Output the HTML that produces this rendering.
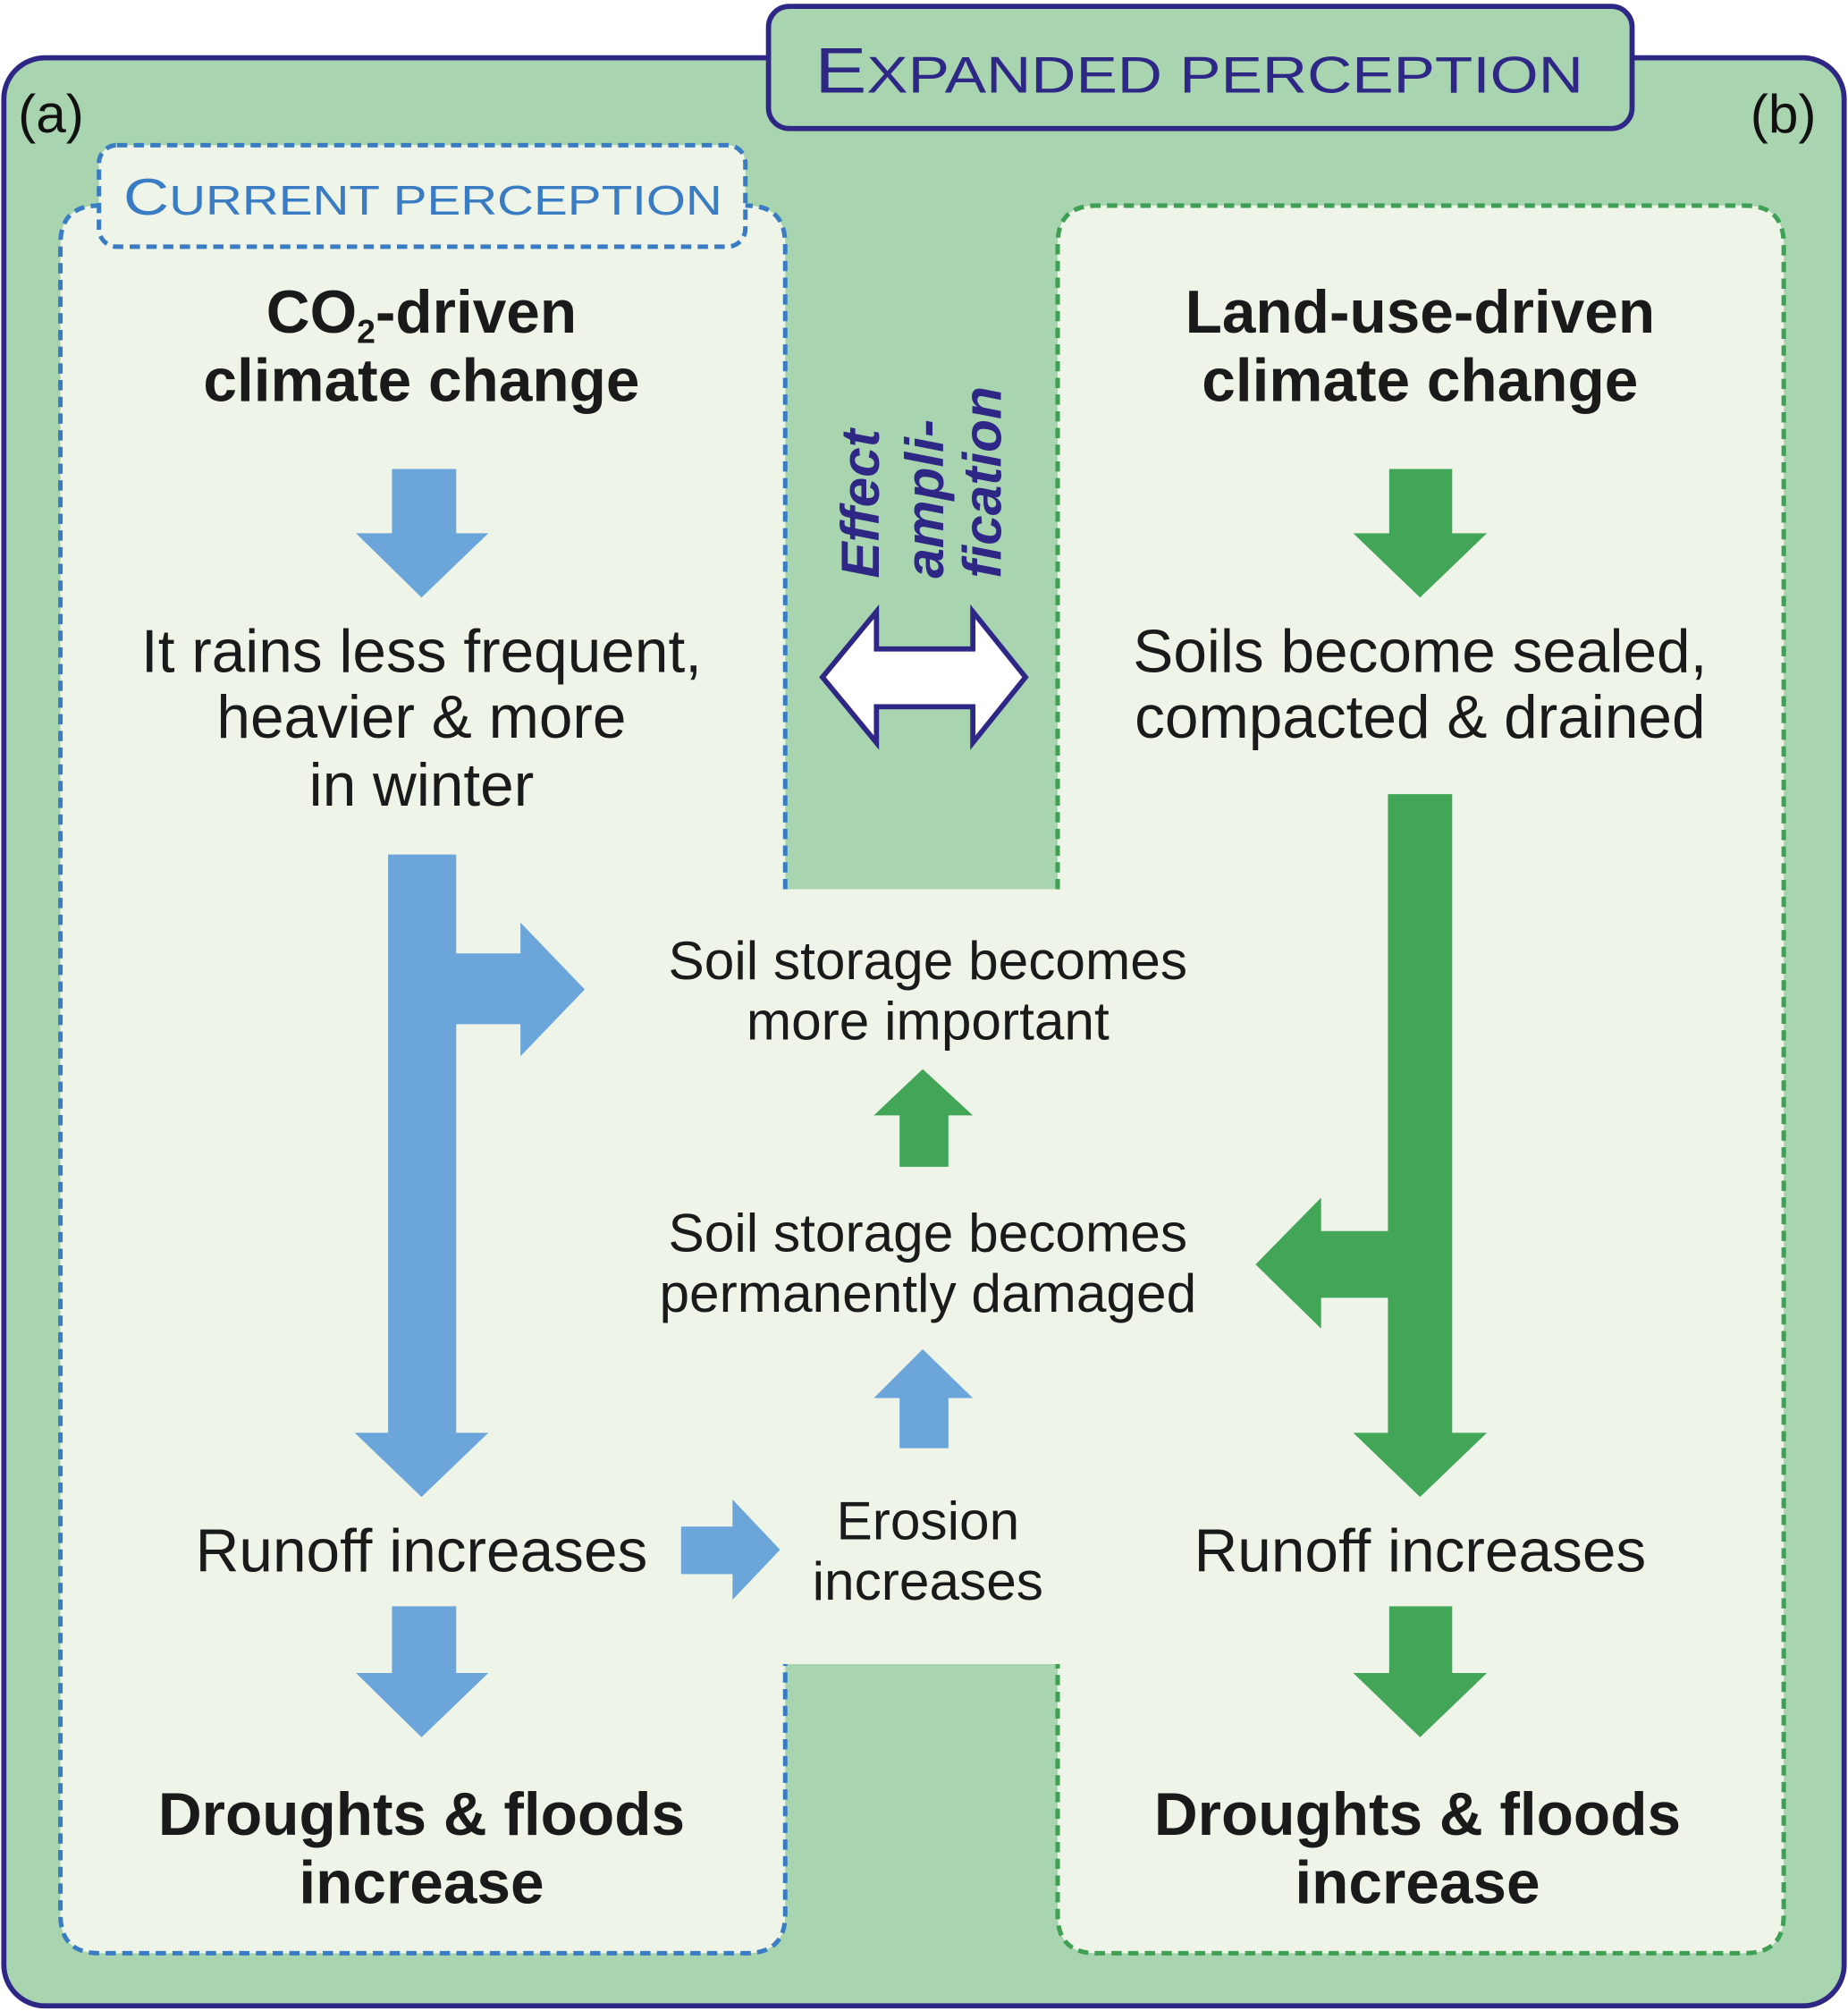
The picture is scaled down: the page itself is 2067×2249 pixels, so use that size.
<!DOCTYPE html>
<html><head><meta charset="utf-8"><style>
html,body{margin:0;padding:0;background:#fff;}
svg{display:block;}
text{font-family:"Liberation Sans",sans-serif;}
</style></head><body>
<svg width="2067" height="2249" viewBox="0 0 1438 1565" preserveAspectRatio="none" xmlns="http://www.w3.org/2000/svg">
<rect x="3" y="45" width="1432" height="1516" rx="32" fill="#a8d4b0" stroke="#2e2785" stroke-width="4"/>
<rect x="598" y="5" width="672" height="95" rx="16" fill="#a8d4b0" stroke="#2e2785" stroke-width="4"/>
<text x="634" y="72" fill="#2e2785" font-size="50" textLength="598" lengthAdjust="spacingAndGlyphs">E<tspan font-size="40">XPANDED PERCEPTION</tspan></text>
<text x="14" y="103" font-size="42" fill="#111">(a)</text>
<text x="1362" y="103" font-size="42" fill="#111">(b)</text>
<path d="M77,160 H581 Q611,160 611,190 V692 H823 V190 Q823,160 853,160 H1358 Q1388,160 1388,190 V1490 Q1388,1520 1358,1520 H853 Q823,1520 823,1490 V1295 H611 V1490 Q611,1520 581,1520 H77 Q47,1520 47,1490 V190 Q47,160 77,160 Z" fill="#eff4e8"/>
<path d="M611,692 V190 Q611,160 581,160 H77 Q47,160 47,190 V1490 Q47,1520 77,1520 H581 Q611,1520 611,1490 V1295" fill="none" stroke="#3a7cc3" stroke-width="3.5" stroke-dasharray="8,5"/>
<path d="M823,692 V190 Q823,160 853,160 H1358 Q1388,160 1388,190 V1490 Q1388,1520 1358,1520 H853 Q823,1520 823,1490 V1295" fill="none" stroke="#3fa055" stroke-width="3.5" stroke-dasharray="8,5"/>
<rect x="77" y="113" width="503" height="79" rx="14" fill="#eff4e8" stroke="#3a7cc3" stroke-width="3.5" stroke-dasharray="8,5"/>
<text x="96" y="167" fill="#3a7cc3" font-size="40" textLength="466" lengthAdjust="spacingAndGlyphs">C<tspan font-size="32">URRENT PERCEPTION</tspan></text>

<g font-size="47" text-anchor="middle" fill="#1a1a1a">
<text x="328" y="259" font-weight="bold">CO<tspan font-size="26" dy="8">2</tspan><tspan dy="-8">-driven</tspan></text>
<text x="328" y="312" font-weight="bold">climate change</text>
<text x="328" y="523">It rains less frequent,</text>
<text x="328" y="574">heavier &amp; more</text>
<text x="328" y="627">in winter</text>
<text x="328" y="1223">Runoff increases</text>
<text x="328" y="1428" font-weight="bold">Droughts &amp; floods</text>
<text x="328" y="1481" font-weight="bold">increase</text>
<text x="1105" y="259" font-weight="bold">Land-use-driven</text>
<text x="1105" y="312" font-weight="bold">climate change</text>
<text x="1105" y="523">Soils become sealed,</text>
<text x="1105" y="574">compacted &amp; drained</text>
<text x="1105" y="1223">Runoff increases</text>
<text x="1103" y="1428" font-weight="bold">Droughts &amp; floods</text>
<text x="1103" y="1481" font-weight="bold">increase</text>
</g>
<g font-size="42" text-anchor="middle" fill="#1a1a1a">
<text x="722" y="762">Soil storage becomes</text>
<text x="722" y="809">more important</text>
<text x="722" y="974">Soil storage becomes</text>
<text x="722" y="1021">permanently damaged</text>
<text x="722" y="1198">Erosion</text>
<text x="722" y="1245">increases</text>
</g>

<g fill="#6ba5da">
<polygon points="305,365 355,365 355,415 380,415 328,465 277,415 305,415"/>
<polygon points="302,665 355,665 355,742 405,742 405,718 455,770 405,822 405,797 355,797 355,1115 380,1115 328,1165 276,1115 302,1115"/>
<polygon points="700,1127 738,1127 738,1088 757,1088 718,1050 680,1088 700,1088"/>
<polygon points="530,1188 570,1188 570,1167 607,1206 570,1245 570,1225 530,1225"/>
<polygon points="305,1250 355,1250 355,1302 380,1302 328,1352 277,1302 305,1302"/>
</g>
<g fill="#43a557">
<polygon points="1081,365 1130,365 1130,415 1157,415 1105,465 1053,415 1081,415"/>
<polygon points="1080,618 1130,618 1130,1115 1157,1115 1105,1165 1053,1115 1080,1115 1080,1010 1028,1010 1028,1034 977,984 1028,932 1028,958 1080,958"/>
<polygon points="700,908 738,908 738,868 757,868 718,832 680,868 700,868"/>
<polygon points="1081,1250 1130,1250 1130,1302 1157,1302 1105,1352 1053,1302 1081,1302"/>
</g>
<polygon points="640,527 682,476 682,505 757,505 757,476 798,527 757,578 757,550 682,550 682,578" fill="#fff" stroke="#2e2785" stroke-width="4" stroke-linejoin="miter"/>
<g font-size="42" font-weight="bold" font-style="italic" fill="#2e2785">
<text transform="translate(684,450) rotate(-90)">Effect</text>
<text transform="translate(734,450) rotate(-90)">ampli-</text>
<text transform="translate(779,450) rotate(-90)">fication</text>
</g>
</svg>
</body></html>
